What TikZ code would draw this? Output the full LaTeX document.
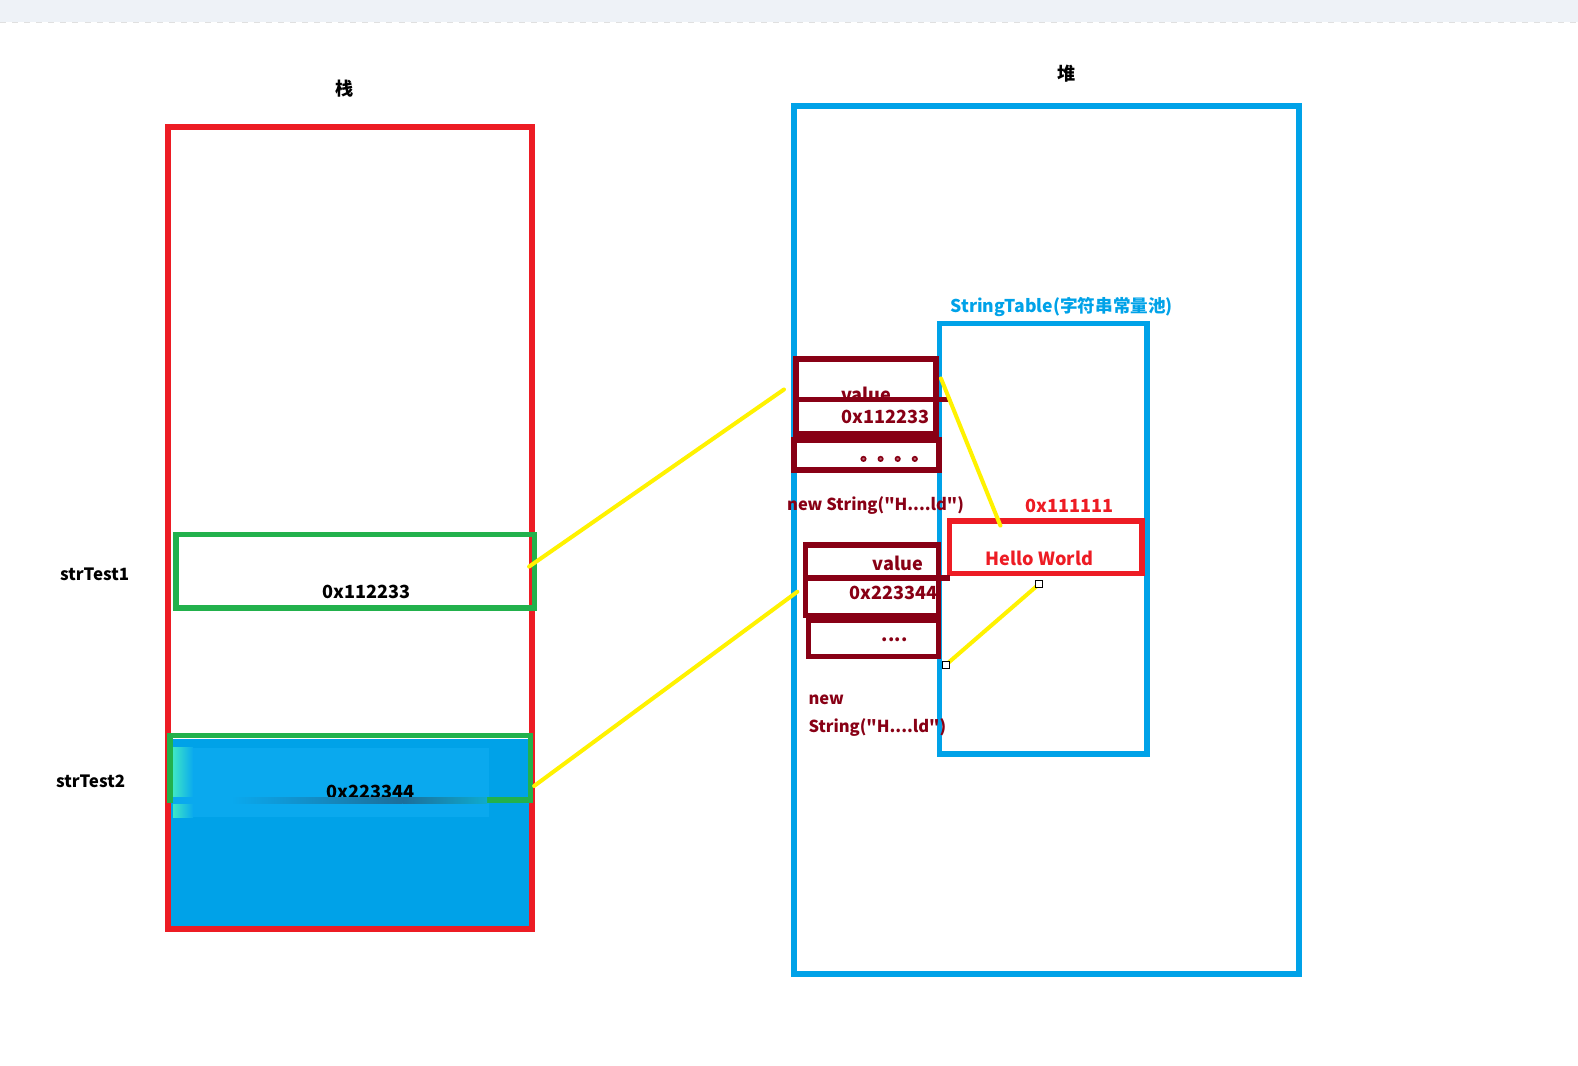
\documentclass[tikz,border=0pt]{standalone}
\usepackage{fontspec}
\setmainfont{Noto Sans CJK SC}[Ligatures=TeXOff]
\definecolor{stackred}{HTML}{ED1C24}
\definecolor{heapblue}{HTML}{00A2E8}
\definecolor{slotgreen}{HTML}{22B14C}
\definecolor{objred}{HTML}{880015}
\definecolor{linkyellow}{HTML}{FFF200}
\definecolor{topband}{HTML}{EEF2F7}
\definecolor{smearblue}{HTML}{0AA9EE}
\definecolor{smeardark}{HTML}{1C6E9A}
\begin{document}
\begin{tikzpicture}[x=0.5pt, y=-0.5pt,
      cell/.style={draw, rectangle, inner sep=0pt},
      txt/.style={font=\bfseries\fontsize{9}{14}\selectfont, inner sep=0pt},
      small/.style={font=\bfseries\fontsize{8.4}{12}\selectfont, inner sep=0pt},
      call/.style={font=\bfseries\fontsize{8.2}{14}\selectfont, inner sep=0pt, text=objred},
      link/.style={draw=linkyellow, line width=2pt, line cap=round},
      grip/.style={draw=black, fill=white, line width=0.5pt, minimum size=3.5pt, inner sep=0pt}]
      \useasboundingbox (0, 0) rectangle (1568, 1059);
      \fill[topband] (0, 0) rectangle (1568, 22);
      \draw[dashed, black!12] (0, 22) -- (1568, 22);

      % stack side
      \node[txt] (stacktitle) at (342, 88) [] {栈};
      \node[cell, draw=stackred, line width=3pt, minimum width=181pt, minimum height=398.5pt] (stack) at (348, 524.5) [] {};
      \fill[heapblue] (170, 734) rectangle (526, 920);
      \fill[smearblue] (172, 743) rectangle (486, 812);
      \shade[left color=cyan!60!slotgreen!80, right color=smearblue] (172, 743) rectangle (192, 812);
      \node[txt] (addr1) at (364, 588) [] {0x112233};
      \node[txt] (addr2) at (368, 787) [] {0x223344};
      \node[cell, draw=slotgreen, line width=2.75pt, minimum width=178pt, minimum height=36.5pt] (g1) at (353, 567.5) [] {};
      \node[cell, draw=slotgreen, line width=2.75pt, minimum width=179pt, minimum height=32pt] (g2) at (348, 763) [] {};
      \fill[smearblue] (172, 792) rectangle (484, 799);
      \shade[left color=smearblue, right color=smeardark] (230, 792) rectangle (400, 798);
      \shade[left color=smeardark, right color=smearblue!80!slotgreen] (400, 792) rectangle (484, 798);
      \node[small] (var1) at (94, 571) [] {strTest1};
      \node[small] (var2) at (90, 776) [] {strTest2};

      % heap side
      \node[txt] (heaptitle) at (1060, 73) [] {堆};
      \node[cell, draw=heapblue, line width=3pt, minimum width=251pt, minimum height=431.5pt] (heap) at (1040, 536.5) [] {};
      \node[cell, draw=heapblue, line width=2.75pt, minimum width=103pt, minimum height=213.75pt] (pool) at (1036.5, 535.25) [] {};
      \node[txt, font=\bfseries\fontsize{8.75}{12}\selectfont, text=heapblue] (pooltitle) at (1055, 305) [] {StringTable(字符串常量池)};
      \node[txt, text=stackred] (pooladdr) at (1063, 503) [] {0x111111};
      \node[txt, text=stackred] (hellotext) at (1033, 555) [] {Hello World};
      \node[cell, draw=stackred, line width=2.75pt, minimum width=95.75pt, minimum height=26.25pt] (hello) at (1039.25, 543.75) [] {};

      \node[txt, text=objred] (valueA) at (861, 392) [] {value};
      \node[txt, text=objred] (addrA) at (880, 414) [] {0x112233};
      \node[cell, draw=objred, line width=3pt, minimum width=69.5pt, minimum height=37pt] (objA) at (860.5, 394) [] {};
      \node[cell, draw=objred, line width=3pt, minimum width=72pt, minimum height=15pt] (objB) at (861, 452) [] {};
      \draw[objred, line width=2.5pt, line cap=round] ([shift={(3pt,-1.5pt)}]objA.west) -- ([shift={(4.5pt,-1.5pt)}]objA.east);
      \foreach \i in {0,1,2,3}
        \draw[objred, fill=objred!60, line width=0.8pt] (858+\i*17, 456) circle (1.1pt);
      \node[call] (newA) at (870, 502) [] {new String("H....ld")};

      \node[txt, text=objred] (valueC) at (892, 560) [] {value};
      \node[txt, text=objred] (addrC) at (888, 589) [] {0x223344};
      \node[cell, draw=objred, line width=2.75pt, minimum width=66pt, minimum height=35pt] (objC) at (866.5, 576.5) [] {};
      \node[cell, draw=objred, line width=2.75pt, minimum width=64.5pt, minimum height=18pt] (objD) at (868, 634.5) [] {};
      \draw[objred, line width=3pt] ([yshift=1.25pt]objC.west) -- ([shift={(4.25pt,1.25pt)}]objC.east);
      \node[txt, text=objred] (dotsD) at (889, 636) [] {....};
      \node[call, align=left, anchor=west] (newC) at (803, 711) [] {new\\String("H....ld")};

      % references
      \coordinate (g1out) at ([shift={(-4pt,2.25pt)}]g1.east);
      \coordinate (ain) at ([shift={(-4.5pt,3.5pt)}]objA.west);
      \coordinate (g2out) at ([shift={(0.5pt,-9pt)}]g2.east);
      \coordinate (cin) at ([shift={(-2.75pt,-5.75pt)}]objC.west);
      \coordinate (aout) at ([shift={(1pt,9pt)}]objA.east);
      \coordinate (hin) at ([shift={(-22.6pt,-3.75pt)}]hello.north);
      \coordinate (dout) at ([shift={(2.25pt,-2.75pt)}]objD.south east);
      \coordinate (hout) at ([shift={(-3.6pt,-4pt)}]hello.south);

      \foreach \source/\dest in {g1out/ain, g2out/cin, aout/hin, dout/hout}
        \path[link] (\source) edge (\dest);
      \foreach \p in {dout, hout}
        \node[grip] (grip\p) at (\p) [] {};
\end{tikzpicture}
\end{document}
